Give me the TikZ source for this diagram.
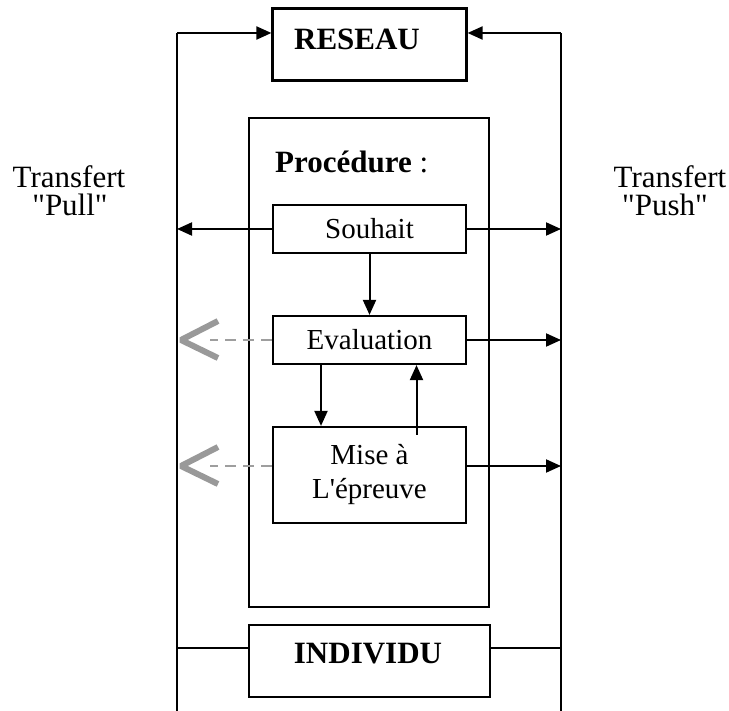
\documentclass[tikz,border=0pt]{standalone}
\usepackage{fontspec}
\setmainfont{Liberation Serif}[Ligatures=TeXOff]
\usetikzlibrary{arrows.meta,calc}

\tikzset{
  frame/.style={draw, line width=2.2pt, inner sep=0pt},
  wire/.style={line width=1.6pt},
  flow/.style={line width=2pt, -{Triangle[length=15pt,width=13pt]}},
  pullline/.style={draw=black!38, line width=1.8pt, dash pattern=on 11pt off 7pt},
  chevron/.style={draw=black!40, line width=6pt, line join=bevel, line cap=butt},
  boxtext/.style={font=\fontsize{29}{34}\selectfont, align=center},
  bigtext/.style={font=\fontsize{31}{27}\selectfont\bfseries, inner sep=0pt},
  sidetext/.style={font=\fontsize{31}{27}\selectfont, inner sep=0pt}
}

\begin{document}
\begin{tikzpicture}[x=1pt, y=-1pt]
\useasboundingbox (0,0) rectangle (729,711);

% outer network loop corners and lower ends
\coordinate (TL) at (177,33);
\coordinate (TR) at (561,33);
\coordinate (BL) at (177,711);
\coordinate (BR) at (561,711);

% boxes
\node[frame, minimum width=194pt, minimum height=72pt] (reseau) at (369.5,44.5) {};
\node[bigtext] (reseautxt) at (357,39) {RESEAU};

\node[frame, line width=1.6pt, minimum width=240pt, minimum height=489pt] (proc) at (369,362.5) {};
\node[anchor=base west, inner sep=0pt, font=\fontsize{31}{27}\selectfont] (proctxt) at (275,173) {\textbf{Procédure} :};

\node[frame, boxtext, minimum width=193pt, minimum height=48pt] (souhait) at (369.5,229) {Souhait};
\node[frame, boxtext, minimum width=193pt, minimum height=48pt] (evaluation) at (369.5,340) {Evaluation};
\node[frame, boxtext, minimum width=193pt, minimum height=96pt] (mise) at (369.5,475) {Mise à\\L'épreuve};

\node[frame, minimum width=241pt, minimum height=72pt] (individu) at (369.5,661) {};
\node[bigtext] (individutxt) at (368,654) {INDIVIDU};

% side labels
\node[sidetext, anchor=base] (pull1) at (69,188) {Transfert};
\node[sidetext, anchor=base] (pull2) at (70,216) {"Pull"};
\node[sidetext, anchor=base] (push1) at (670,188) {Transfert};
\node[sidetext, anchor=base] (push2) at (665,216) {"Push"};

% attachment points
\coordinate (indW) at ($(individu.west)+(0,-13)$);
\coordinate (indE) at ($(individu.east)+(0,-13)$);
\coordinate (miseW) at ($(mise.west)+(0,-9)$);
\coordinate (miseE) at ($(mise.east)+(0,-9)$);
\coordinate (evalS1) at ($(evaluation.south)+(-48.5,0)$);
\coordinate (miseN1) at ($(mise.north)+(-48.5,0)$);
\coordinate (miseN2) at ($(mise.north)+(47,9)$);
\coordinate (evalS2) at ($(evaluation.south)+(47,0)$);

% outer loop
\draw[wire] (BL) -- (TL);
\draw[wire] (BR) -- (TR);
\draw[flow] (TL) -- (TL -| reseau.west);
\draw[flow] (TR) -- (TR -| reseau.east);

% individu link to the loop
\draw[wire] (indW) -- (indW -| TL);
\draw[wire] (indE) -- (indE -| TR);

% souhait transfers
\draw[flow] (souhait.west) -- (souhait.west -| TL);
\draw[flow] (souhait.east) -- (souhait.east -| TR);

% procedure chain
\draw[flow] (souhait.south) -- (evaluation.north);
\draw[flow] (evalS1) -- (miseN1);
\draw[flow] (miseN2) -- (evalS2);

% push transfers
\draw[flow] (evaluation.east) -- (evaluation.east -| TR);
\draw[flow] (miseE) -- (miseE -| TR);

% pull transfers (dashed, grey)
\coordinate (tipE) at ($(evaluation.west -| TL)+(4,0)$);
\coordinate (tipM) at ($(miseW -| TL)+(4,0)$);
\draw[pullline] (evaluation.west) -- ($(tipE)+(29,0)$);
\draw[chevron] ($(tipE)+(37,-19)$) -- (tipE) -- ($(tipE)+(37,18)$);
\draw[pullline] (miseW) -- ($(tipM)+(29,0)$);
\draw[chevron] ($(tipM)+(37,-19)$) -- (tipM) -- ($(tipM)+(37,18)$);
\end{tikzpicture}
\end{document}
